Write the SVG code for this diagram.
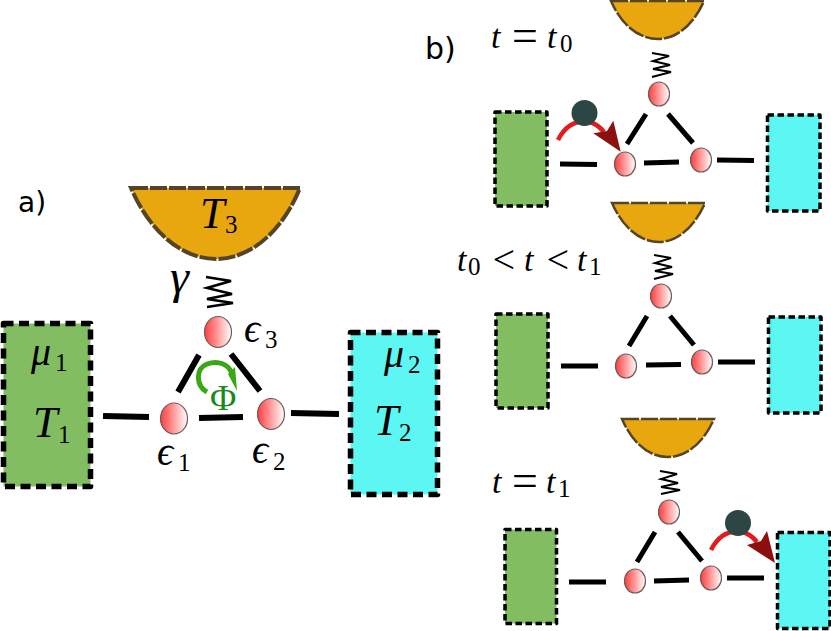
<svg xmlns="http://www.w3.org/2000/svg" width="831" height="631" viewBox="0 0 831 631">
<style>
.g{fill:#82bd62}.c{fill:#5cf6f3}
.r{stroke:#000;stroke-linejoin:round}
.big{stroke-width:5.5;stroke-dasharray:10 5.5}
.sm{stroke-width:3.5;stroke-dasharray:6.5 3.5}
.bowl{fill:#e8a70f;stroke:#54452a;stroke-dasharray:17 2}
.n{fill:url(#ng);stroke:#6d5c5c;stroke-width:1.2}
.l{stroke:#000;fill:none}
.la{stroke-width:6}.lb{stroke-width:5}
.sp{fill:none;stroke:#000;stroke-linejoin:miter}
.m{font-family:"Liberation Serif",serif;font-style:italic;fill:#000}
.s{font-style:normal;font-size:25px}
.ss{font-style:normal;font-size:25px}
.big-t{font-size:44px}.mu{font-size:40px}.eps{font-size:40px}.time{font-size:34px}
.op{font-size:46px}.lt{font-size:40px}
.h{font-family:"DejaVu Sans",sans-serif;fill:#000;font-size:28px}
.ball{fill:#2d4545}.arc{fill:none;stroke:#e01c1c;stroke-width:4.5}.head{fill:#8b1010}
</style>
<defs>
<linearGradient id="ng" x1="0" x2="1" y1="0" y2="0"><stop offset="0" stop-color="#ff3c3c"/><stop offset="1" stop-color="#ffffff"/></linearGradient>
</defs>

<g id="connectors">
<g class="l la">
<path d="M103,416L149,417M199,418L243,417M291,413L339,414M178,392L199,355M231,354L260,391"/>
</g>
<path class="sp" stroke-width="2.600" d="M206,277L231,281L207,288L232,294L207,299L233,303L207,307"/>
<g class="l lb">
<path d="M560,164L597,164.500M644,163L679,162M717,160L754,160.500M627,144L646,114M668,114L693,143"/>
<path d="M561,366L598,366M646,365L681,364.500M718,362L755,362M629,346L647,316M670,316L694,345"/>
<path d="M569,582L606,582M654,581L689,580M727,578L764,578M637,562L655,532M678,532L702,561"/>
</g>
<g class="sp" stroke-width="2">
<path d="M652,53L669,56L653,61L670,65L653,69L671,72L652,77"/>
<path d="M654,255L671,258L655,263L672,267L655,271L673,274L654,279"/>
<path d="M660,471L677,474L661,479L678,483L661,487L680,490L661,494"/>
</g>
</g>

<g id="bath1"><rect class="g r big" x="3.500" y="323.500" width="87" height="163"/>
<text class="m mu" x="31" y="365">μ<tspan class="s" x="55" y="371">1</tspan></text>
<text class="m big-t" x="33" y="437">T<tspan class="s" x="58" y="443">1</tspan></text></g>
<g id="bath2"><rect class="c r big" x="350.500" y="332.500" width="87" height="162"/>
<text class="m mu" x="384" y="367">μ<tspan class="s" x="408" y="373">2</tspan></text>
<text class="m big-t" x="374" y="435">T<tspan class="s" x="399" y="441">2</tspan></text></g>
<g id="bath3"><path class="bowl" stroke-width="4" d="M131,188L300,188C282,232 250,259 216,259C182,259 150,232 131,188Z"/>
<text class="m big-t" x="200" y="228">T<tspan class="s" x="225" y="233">3</tspan></text></g>

<g id="dot1"><ellipse class="n" cx="174" cy="418.500" rx="13.500" ry="15.500"/>
<text class="m eps" x="157" y="465">ϵ<tspan class="s" x="178" y="471">1</tspan></text></g>
<g id="dot2"><ellipse class="n" cx="271" cy="414" rx="13.500" ry="15.500"/>
<text class="m eps" x="252" y="463">ϵ<tspan class="s" x="273" y="470">2</tspan></text></g>
<g id="dot3"><ellipse class="n" cx="218" cy="332" rx="13.500" ry="15.500"/>
<text class="m eps" x="244" y="342">ϵ<tspan class="s" x="265" y="348">3</tspan></text></g>
<g id="flux">
<path fill="none" stroke="#3aa815" stroke-width="5" d="M207,392C196,386 195,369 207,364C218,360 229,364 232,374"/>
<path fill="#3aa815" d="M228,374L235,367L237,391Z"/>
<text font-family="Liberation Serif,serif" fill="#1a8a1a" font-size="36" x="210" y="410">Φ</text>
</g>
<text class="m" font-size="48" x="170" y="293" id="gamma">γ</text>
<text class="h" x="18" y="212" id="label-a">a)</text>
<text class="h" style="font-size:30px" x="425" y="59" id="label-b">b)</text>

<g id="b1-bath1"><rect class="g r sm" x="495" y="112" width="52" height="94"/></g>
<g id="b1-bath2"><rect class="c r sm" x="767.500" y="115" width="52.500" height="96"/></g>
<g id="b1-bath3"><path class="bowl" stroke-width="2.500" d="M611,1L704,1C694,24 677,39 658,39C638,39 621,24 611,1Z"/></g>
<g id="b1-dot1"><ellipse class="n" cx="625" cy="164" rx="10.500" ry="12"/></g>
<g id="b1-dot2"><ellipse class="n" cx="701" cy="160" rx="10.500" ry="12"/></g>
<g id="b1-dot3"><ellipse class="n" cx="659" cy="94" rx="10.500" ry="12"/></g>
<g id="b1-electron">
<path class="arc" d="M558,140C566,124 578,120 590,122C596,124 600,127 604,132"/>
<circle class="ball" cx="584.500" cy="113" r="13"/>
<path class="head" d="M620.700,151.700L593.300,133.300L607,131L613.300,120.700Z"/>
</g>
<text class="m time" x="491" y="48" id="b1-time">t<tspan class="op" x="509" y="51">=</tspan><tspan x="547" y="48">t</tspan><tspan class="ss" x="560" y="52">0</tspan></text>

<g id="b2-bath1"><rect class="g r sm" x="496" y="314" width="52" height="94"/></g>
<g id="b2-bath2"><rect class="c r sm" x="768.500" y="317" width="52.500" height="96"/></g>
<g id="b2-bath3"><path class="bowl" stroke-width="2.500" d="M612,203L705,203C695,226 678,242 659,242C639,242 622,226 612,203Z"/></g>
<g id="b2-dot1"><ellipse class="n" cx="626" cy="366" rx="10.500" ry="12"/></g>
<g id="b2-dot2"><ellipse class="n" cx="702" cy="362" rx="10.500" ry="12"/></g>
<g id="b2-dot3"><ellipse class="n" cx="661" cy="296" rx="10.500" ry="12"/></g>
<text class="m time" x="457" y="271" id="b2-time">t<tspan class="ss" x="468" y="275">0</tspan><tspan class="lt" x="490" y="273">&lt;</tspan><tspan x="524" y="271">t</tspan><tspan class="lt" x="544" y="273">&lt;</tspan><tspan x="577" y="271">t</tspan><tspan class="ss" x="589" y="275">1</tspan></text>

<g id="b3-bath1"><rect class="g r sm" x="505" y="529.500" width="51.500" height="94"/></g>
<g id="b3-bath2"><rect class="c r sm" x="777.500" y="532.500" width="52.500" height="96"/></g>
<g id="b3-bath3"><path class="bowl" stroke-width="2.500" d="M622,419L714,419C704,442 687,457 668,457C648,457 632,442 622,419Z"/></g>
<g id="b3-dot1"><ellipse class="n" cx="635" cy="581" rx="10.500" ry="12"/></g>
<g id="b3-dot2"><ellipse class="n" cx="711" cy="578" rx="10.500" ry="12"/></g>
<g id="b3-dot3"><ellipse class="n" cx="669" cy="512" rx="10.500" ry="12"/></g>
<g id="b3-electron">
<path class="arc" d="M711,550C719,534 731,530 743,532C749,534 753,537 757,542"/>
<circle class="ball" cx="738" cy="523" r="13"/>
<path class="head" d="M775,563L747,545L761,541L767,531Z"/>
</g>
<text class="m time" x="492" y="493" id="b3-time">t<tspan class="op" x="509" y="496">=</tspan><tspan x="546" y="493">t</tspan><tspan class="ss" x="558" y="497">1</tspan></text>
</svg>
